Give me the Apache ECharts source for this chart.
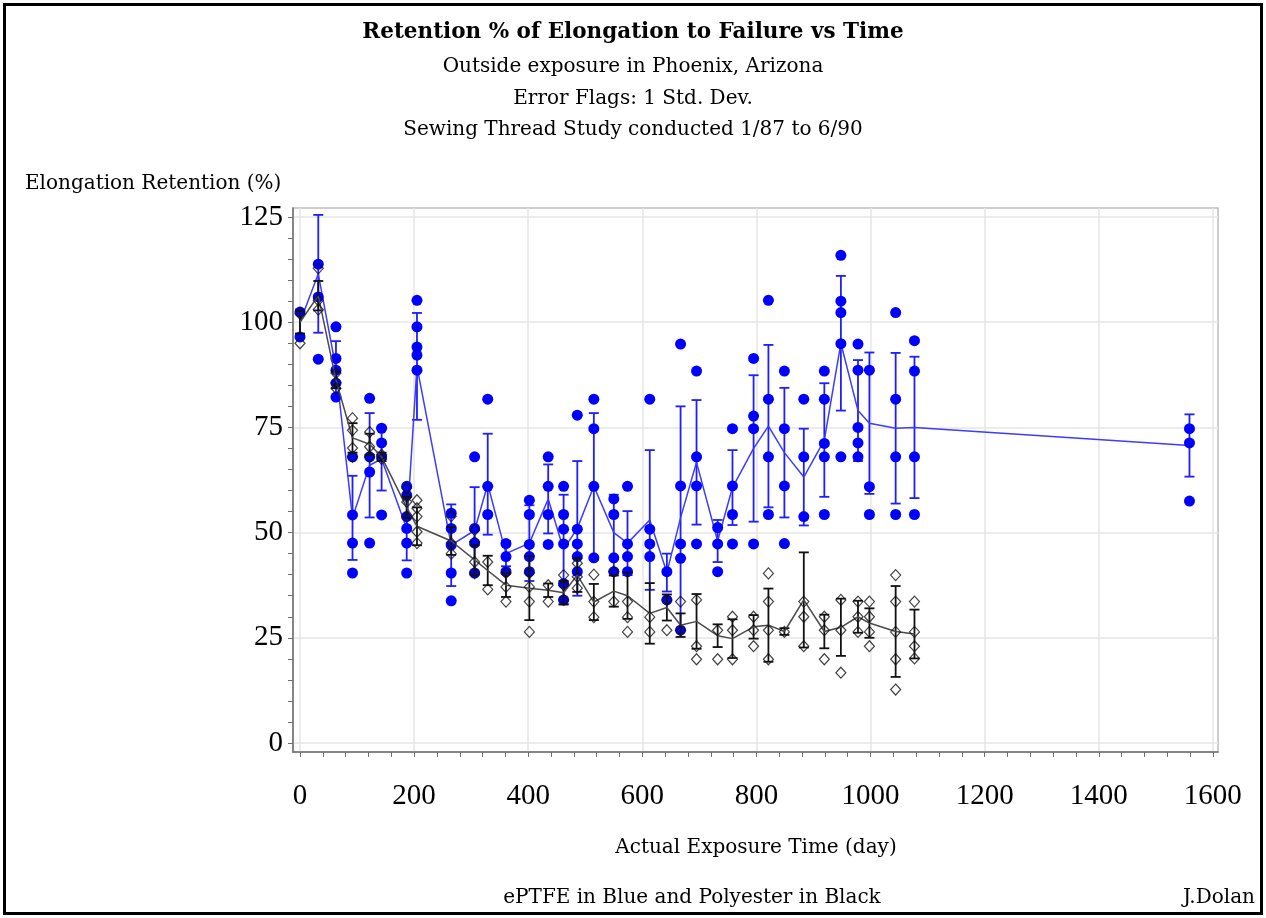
<!DOCTYPE html>
<html><head><meta charset="utf-8">
<script src="https://cdn.jsdelivr.net/npm/echarts@6/dist/echarts.min.js"></script>
<style>
html,body{margin:0;padding:0;background:#fff;}
#chart{position:absolute;left:0;top:0;width:1266px;height:918px;}
#frame{position:absolute;left:3px;top:3px;width:1254px;height:906px;border:3px solid #000;pointer-events:none;}
</style></head>
<body><div id="chart"></div><div id="frame"></div>
<script>
const days = [0,32,63,92,122,143,187,205,265,306,329,361,402,435,462,486,515,550,574,613,643,667,695,732,758,795,821,849,883,919,948,978,998,1044,1077,1559];
const bluePts = [
 [102.4,96.5],[113.8,106,91.2],[98.9,91.4,88.6,85.5,82.2],[68,54.2,47.5,40.4],[81.9,68,64.4,47.5],
 [74.8,71.3,68,54.2],[61,58.9,53.8,51,47.5,40.4],[105.2,98.9,94.1,92.2,88.6],[54.6,51,47,40.4,33.8],[68,51,47.5,40.4],
 [81.7,61,54.3],[47.4,44.3,40.7],[57.7,54.3,47.2,44.3,40.7],[68,61,54.3,47.2],[61,54.3,50.8,47.3,37.9,34],
 [77.9,50.8,47.3,44.3,40.7],[81.7,74.7,61,44],[58,54.3,44,40.7],[61,47.3,44.3,40.7],[81.7,50.8,47.3,44.3],
 [40.7,34],[94.8,61.1,47.3,43.9,26.8],[88.4,68,61.1,47.3],[51.2,47.3,40.7],[74.7,61.1,54.3,47.3],
 [91.4,77.7,74.7,47.3],[105.2,81.7,68,54.3],[88.4,74.7,61.1,47.4],[81.7,68,53.8],[88.4,81.7,71.2,68,54.3],
 [115.9,105,102.3,94.9,68],[94.8,88.6,75,71.3,68],[88.6,60.9,54.3],[102.3,81.7,68,54.3],[95.6,88.4,68,54.3],
 [74.7,71.3,57.5]
];
const blueMean = [100,111.5,89,53.5,66,67.5,51,89.5,47,50.5,61.5,45,47.5,58,46,51,61,50,47.5,53,40.5,53.5,66.7,48,60.7,70,75.3,69,63.2,72,95,79,76,74.8,75,70.7];
const blueSD   = [3,14,6.5,10,12.4,7.5,7.6,12.7,9.7,10.3,12,3,9,8.2,13,16,17.4,9,7.6,16.6,4.5,26.5,14.8,5,8.9,17.4,19.3,15.4,11.5,13.5,16,12,16.8,17.9,16.8,7.4];

const blackDays = [0,32,63,92,122,143,187,205,265,306,329,361,402,435,462,486,515,550,574,613,643,667,695,732,758,795,821,849,883,919,948,978,998,1044,1077];
const blackPts = [
 [102,95],[112.8,105.2,103],[87.9,85.7,84.3],[77.2,74.3,70.1,68],[73.9,70.4,68],
 [68.5,67.5],[60.6,58.5,57.3,53.8],[57.7,55.8,53.8,50.2,47.5],[53.9,47.5,45],[50.6,47.8,43,40.4],
 [43,36.5],[40.4,37.1,33.6],[40.4,37.1,33.6,26.4],[37.5,33.6],[39.9,37.5,34],
 [42.7,39.5,36.8],[40,33.6,29.9],[40.7,33.6],[33.6,29.9,26.4],[29.9,26.4],
 [34,26.8],[33.6,26.8],[34,23,19.9],[26.8,19.9],[30,26.8,19.9],
 [30,26.8,23],[40.3,33.6,26.8,19.9],[26.4],[33.6,30,23],[30,26.8,19.9],
 [34,26.8,16.7],[33.6,30,26.4],[33.6,30,26.4,23],[39.9,33.6,26.4,19.9,12.7],[33.6,26.4,23,20.1]
];
const blackMean = [100,106.3,86.3,72.5,71,68,56,51.5,48,43.5,41,37.5,36.8,36.3,35.7,39.9,33.5,36.1,35,30.8,32.2,28,28.9,25.5,24.8,27.6,28,26.5,34,26.5,27.5,30,28.5,26.5,25.9];
const blackSD   = [2.7,3.5,2,3.5,2.5,1,2.5,4.5,3.3,3.5,3.5,2.8,7.6,1.6,2.8,4,4.3,3.7,5.5,7.2,3.1,2.8,6.5,2.7,4.6,2.8,8.7,0.8,11.3,4,6.8,3.8,3.5,10.8,5.8];

const xMajor = [0,200,400,600,800,1000,1200,1400,1600];
const yMajor = [0,25,50,75,100,125];

const xMinor = []; for (let v = 0; v <= 1600; v += 40) xMinor.push(v);
const yMinor = []; for (let v = 0; v <= 125; v += 5) yMinor.push(v);

function flatten(ds, pts){ const out=[]; ds.forEach((d,i)=>pts[i].forEach(v=>out.push([d,v]))); return out; }
function errData(ds, m, s){ return ds.map((d,i)=>[d, m[i]-s[i], m[i]+s[i]]); }
function errRender(color, w){
  return function(params, api){
    const x = api.value(0), lo = api.value(1), hi = api.value(2);
    const p1 = api.coord([x, lo]), p2 = api.coord([x, hi]);
    const hw = 5;
    const st = {stroke:color, lineWidth:w};
    return {type:'group', children:[
      {type:'line', shape:{x1:p1[0],y1:p1[1],x2:p2[0],y2:p2[1]}, style:st},
      {type:'line', shape:{x1:p1[0]-hw,y1:p1[1],x2:p1[0]+hw,y2:p1[1]}, style:st},
      {type:'line', shape:{x1:p2[0]-hw,y1:p2[1],x2:p2[0]+hw,y2:p2[1]}, style:st}
    ]};
  };
}

const FONT = 'DejaVu Serif';
const TICKFONT = 'Liberation Serif';
const XMIN = -12.3, XMAX = 1609, YMIN = -2.14, YMAX = 127.14;
const SUB = {fontFamily:FONT, fontSize:20, fontWeight:'normal', color:'#000', lineHeight:24};

const chart = echarts.init(document.getElementById('chart'), null, {renderer:'canvas'});
chart.setOption({
  animation:false,
  backgroundColor:'#fff',
  title:[
    {text:'Retention % of Elongation to Failure vs Time', left:'center', top:19, padding:0, textStyle:{fontFamily:FONT, fontSize:21.5, fontWeight:'bold', color:'#000', lineHeight:26}},
    {text:'Outside exposure in Phoenix, Arizona', left:'center', top:55, padding:0, textStyle:SUB},
    {text:'Error Flags: 1 Std. Dev.', left:'center', top:87, padding:0, textStyle:SUB},
    {text:'Sewing Thread Study conducted 1/87 to 6/90', left:'center', top:118, padding:0, textStyle:SUB},
    {text:'Elongation Retention (%)', left:25, top:172, padding:0, textStyle:SUB},
    {text:'Actual Exposure Time (day)', left:756, textAlign:'center', top:836, padding:0, textStyle:SUB},
    {text:'ePTFE in Blue and Polyester in Black', left:692, textAlign:'center', top:886, padding:0, textStyle:SUB},
    {text:'J.Dolan', right:11, top:886, padding:0, textStyle:SUB}
  ],
  grid:{left:293, top:208, width:925, height:544, show:true, borderColor:'#bdbdbd', borderWidth:1.5, containLabel:false},
  xAxis:[
    {type:'value', min:XMIN, max:XMAX, position:'bottom',
     axisLine:{show:true, onZero:false, lineStyle:{color:'#6e6e6e', width:1.5}},
     axisTick:{show:true, length:5, customValues:xMinor, lineStyle:{color:'#6e6e6e', width:1}},
     axisLabel:{show:true, customValues:xMajor, margin:30, fontFamily:TICKFONT, fontSize:29, color:'#000', formatter:(v)=>String(v)},
     splitLine:{show:false}},
    {type:'value', min:XMIN, max:XMAX, position:'top',
     axisLine:{show:false}, axisLabel:{show:false},
     axisTick:{show:false, customValues:xMajor},
     splitLine:{show:true, lineStyle:{color:'#e6e6e6', width:1.5}}}
  ],
  yAxis:[
    {type:'value', min:YMIN, max:YMAX, position:'left',
     axisLine:{show:true, onZero:false, lineStyle:{color:'#6e6e6e', width:1.5}},
     axisTick:{show:true, length:5, customValues:yMinor, lineStyle:{color:'#6e6e6e', width:1}},
     axisLabel:{show:true, customValues:yMajor, margin:10, fontFamily:TICKFONT, fontSize:29, color:'#000', formatter:(v)=>String(v)},
     splitLine:{show:false}},
    {type:'value', min:YMIN, max:YMAX, position:'right',
     axisLine:{show:false}, axisLabel:{show:false},
     axisTick:{show:false, customValues:yMajor},
     splitLine:{show:true, lineStyle:{color:'#e6e6e6', width:1.5}}}
  ],
  series:[
    {type:'scatter', xAxisIndex:0, yAxisIndex:0, data:flatten(days, bluePts), symbol:'circle', symbolSize:11,
     itemStyle:{color:'#0000ff', opacity:1}, z:3},
    {type:'line', xAxisIndex:0, yAxisIndex:0, data:days.map((d,i)=>[d, blueMean[i]]), showSymbol:false, symbol:'none',
     lineStyle:{color:'#3c3cff', width:1.5}, z:3},
    {type:'custom', xAxisIndex:0, yAxisIndex:0, data:errData(days, blueMean, blueSD), renderItem:errRender('#1e1eff', 1.8), z:3},
    {type:'scatter', xAxisIndex:0, yAxisIndex:0, data:flatten(blackDays, blackPts), symbol:'diamond', symbolSize:[10,11],
     itemStyle:{color:'rgba(255,255,255,0)', borderColor:'#111', borderWidth:1.2}, z:4},
    {type:'line', xAxisIndex:0, yAxisIndex:0, data:blackDays.map((d,i)=>[d, blackMean[i]]), showSymbol:false, symbol:'none',
     lineStyle:{color:'#4a4a4a', width:1.5}, z:4},
    {type:'custom', xAxisIndex:0, yAxisIndex:0, data:errData(blackDays, blackMean, blackSD), renderItem:errRender('#111', 1.8), z:4}
  ]
});
</script>
</body></html>
